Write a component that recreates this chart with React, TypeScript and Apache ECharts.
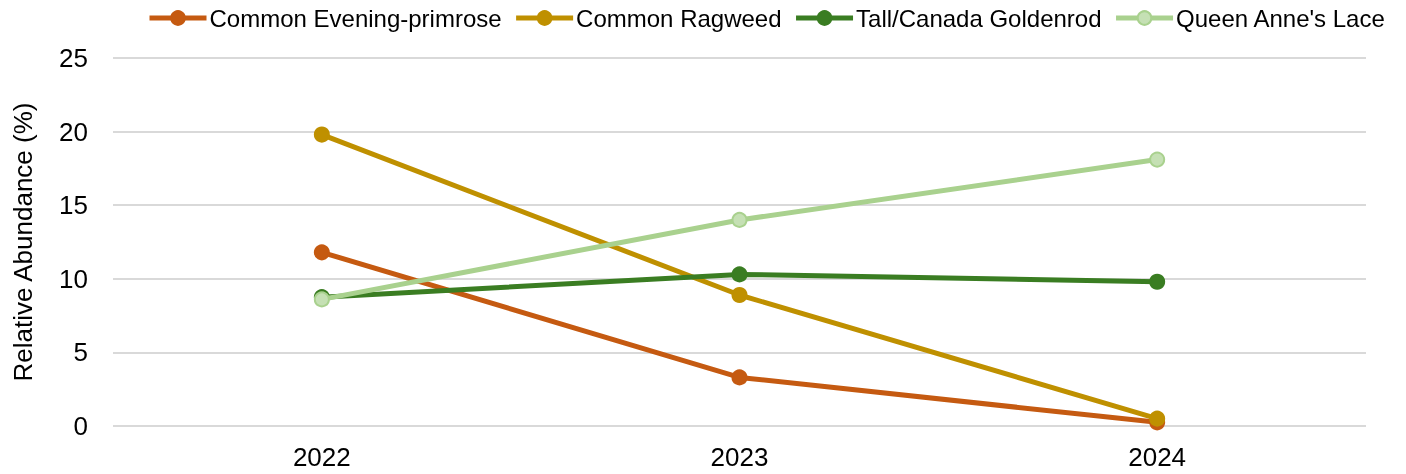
import React, { useEffect, useRef } from "react";
import * as echarts from "echarts";

const years = ["2022", "2023", "2024"];
const eveningPrimrose = [11.8, 3.3, 0.25];
const ragweed = [19.8, 8.9, 0.5];
const goldenrod = [8.75, 10.3, 9.8];
const queenAnnesLace = [8.6, 14.0, 18.1];

const seriesNames = ["Common Evening-primrose", "Common Ragweed", "Tall/Canada Goldenrod", "Queen Anne's Lace"];
const colors = ["#c55a11", "#bf9000", "#3a7d22", "#a9d18e"];
const fills = ["#c55a11", "#bf9000", "#3a7d22", "#c5e0b4"];
const dataSets = [eveningPrimrose, ragweed, goldenrod, queenAnnesLace];

export default function App() {
  const ref = useRef<HTMLDivElement>(null);
  useEffect(() => {
    if (!ref.current) return;
    const chart = echarts.init(ref.current, undefined, { renderer: "svg" });
    const font = "Liberation Sans, Arial, sans-serif";
    chart.setOption({
      animation: false,
      textStyle: { fontFamily: font },
      legend: {
        top: 1,
        left: 142,
        itemWidth: 57,
        itemHeight: 17,
        itemGap: 12,
        lineStyle: { width: 5 },
        textStyle: { fontSize: 24, color: "#000", fontFamily: font, padding: [0, 0, 0, -2] },
        data: seriesNames,
      },
      grid: { left: 113, right: 40, top: 58, bottom: 48 },
      xAxis: {
        type: "category",
        data: years,
        boundaryGap: true,
        axisLine: { show: false },
        axisTick: { show: false },
        axisLabel: { fontSize: 26, color: "#000", margin: 18, fontFamily: font },
      },
      yAxis: {
        type: "value",
        min: 0,
        max: 25,
        interval: 5,
        name: "Relative Abundance (%)",
        nameLocation: "middle",
        nameGap: 77,
        nameTextStyle: { fontSize: 26, color: "#000", fontFamily: font },
        axisLine: { show: false },
        axisTick: { show: false },
        axisLabel: { fontSize: 26, color: "#000", margin: 25, fontFamily: font },
        splitLine: { lineStyle: { color: "#d9d9d9", width: 2 } },
      },
      series: seriesNames.map((name, i) => ({
        name,
        type: "line",
        data: dataSets[i],
        symbol: "circle",
        symbolSize: 14,
        lineStyle: { color: colors[i], width: 5 },
        itemStyle: { color: fills[i], borderColor: colors[i], borderWidth: 2 },
        z: 2 + i,
      })),
    });
    return () => chart.dispose();
  }, []);
  return <div ref={ref} style={{ position: "fixed", left: 0, top: 0, width: 1406, height: 474 }} />;
}
